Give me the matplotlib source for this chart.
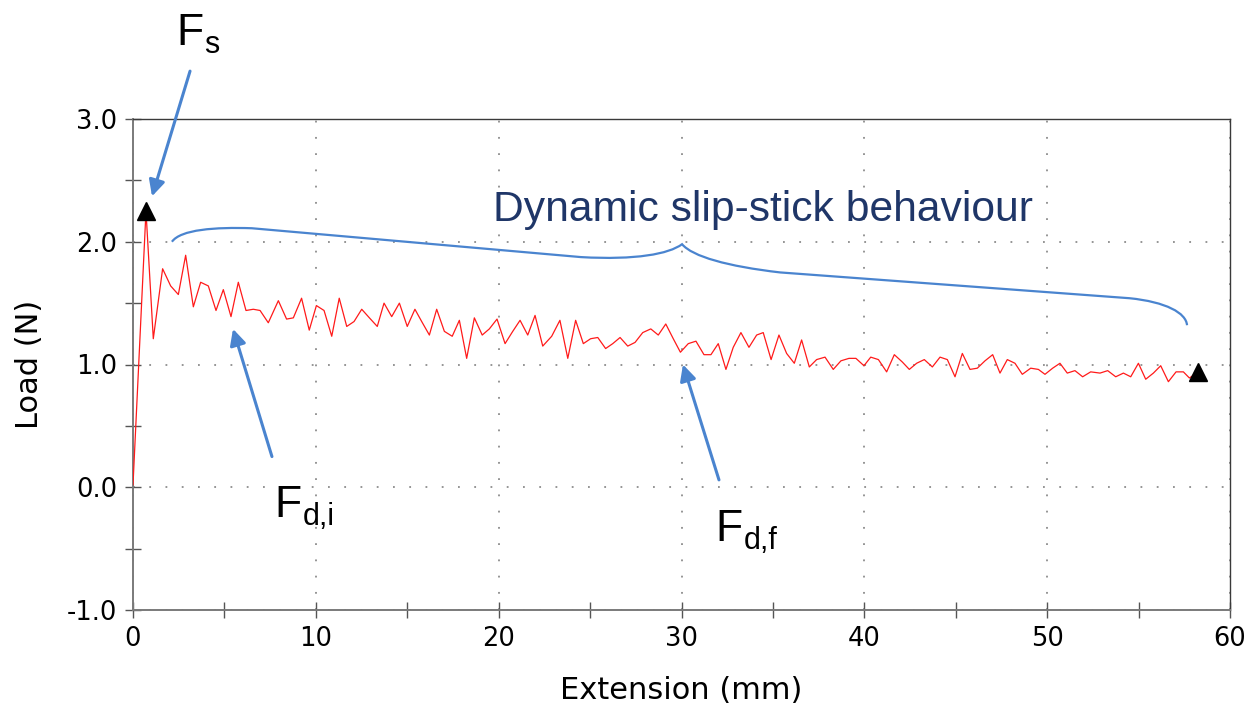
import matplotlib
matplotlib.use("Agg")
import matplotlib.pyplot as plt
from matplotlib.ticker import MultipleLocator, FormatStrFormatter
from matplotlib.path import Path
from matplotlib.patches import PathPatch

# Load-extension record of the slip-stick test
ext_mm = [0.00, 0.71, 1.11, 1.62, 2.06, 2.48, 2.88, 3.30, 3.70, 4.12, 4.54, 4.94,
          5.36, 5.76, 6.18, 6.58, 6.95, 7.40, 7.95, 8.40, 8.77, 9.22, 9.64, 10.03,
          10.45, 10.87, 11.28, 11.69, 12.09, 12.51, 12.93, 13.36, 13.73, 14.15, 14.57, 15.00,
          15.42, 15.79, 16.21, 16.61, 17.03, 17.46, 17.85, 18.25, 18.67, 19.10, 19.49, 19.91,
          20.35, 20.77, 21.17, 21.59, 21.99, 22.41, 22.90, 23.35, 23.78, 24.21, 24.63, 25.03,
          25.42, 25.85, 26.24, 26.64, 27.06, 27.46, 27.88, 28.32, 28.73, 29.14, 29.55, 29.94,
          30.37, 30.79, 31.23, 31.61, 32.01, 32.43, 32.83, 33.25, 33.69, 34.11, 34.47, 34.90,
          35.33, 35.75, 36.17, 36.57, 36.99, 37.39, 37.85, 38.30, 38.72, 39.16, 39.54, 39.98,
          40.35, 40.77, 41.22, 41.64, 42.08, 42.46, 42.86, 43.28, 43.72, 44.14, 44.54, 44.96,
          45.36, 45.78, 46.18, 46.60, 47.02, 47.42, 47.82, 48.24, 48.64, 49.10, 49.52, 49.88,
          50.30, 50.70, 51.10, 51.52, 51.94, 52.38, 52.89, 53.31, 53.75, 54.17, 54.57, 54.99,
          55.39, 55.81, 56.21, 56.63, 57.05, 57.45, 57.78, 58.27]
load_n = [0.02, 2.25, 1.21, 1.78, 1.64, 1.57, 1.89, 1.47, 1.67, 1.64, 1.44, 1.61,
          1.39, 1.67, 1.44, 1.45, 1.44, 1.34, 1.52, 1.37, 1.38, 1.54, 1.28, 1.48,
          1.44, 1.23, 1.54, 1.31, 1.35, 1.45, 1.38, 1.31, 1.50, 1.39, 1.50, 1.31,
          1.45, 1.35, 1.24, 1.45, 1.27, 1.23, 1.36, 1.05, 1.38, 1.24, 1.29, 1.37,
          1.17, 1.27, 1.36, 1.24, 1.40, 1.15, 1.23, 1.36, 1.05, 1.36, 1.17, 1.21,
          1.22, 1.13, 1.17, 1.22, 1.15, 1.18, 1.26, 1.29, 1.24, 1.33, 1.21, 1.10,
          1.17, 1.19, 1.08, 1.08, 1.17, 0.96, 1.14, 1.26, 1.14, 1.24, 1.26, 1.04,
          1.24, 1.09, 1.01, 1.20, 0.98, 1.04, 1.06, 0.96, 1.03, 1.05, 1.05, 0.99,
          1.06, 1.04, 0.94, 1.08, 1.02, 0.96, 1.01, 1.04, 0.98, 1.06, 1.04, 0.90,
          1.09, 0.96, 0.97, 1.03, 1.08, 0.93, 1.04, 1.01, 0.92, 0.97, 0.96, 0.92,
          0.97, 1.01, 0.93, 0.95, 0.90, 0.94, 0.93, 0.95, 0.90, 0.93, 0.90, 1.01,
          0.88, 0.93, 0.99, 0.86, 0.94, 0.94, 0.89, 0.94]

# Marked points: static peak and final point
peak_idx = 1
end_idx = len(ext_mm) - 1

x_ticks = [0, 10, 20, 30, 40, 50, 60]
y_ticks = [-1.0, 0.0, 1.0, 2.0, 3.0]

W, H = 1247, 707
fig = plt.figure(figsize=(W / 100, H / 100), dpi=100)
ax = fig.add_axes([133 / W, (H - 610) / H, (1230 - 133) / W, (610 - 119) / H])

ARROW_BLUE = "#4a84cf"
TEXT_NAVY = "#1f3668"
ann_font = ["Liberation Sans", "DejaVu Sans"]

ax.plot(ext_mm, load_n, color="#ff1a1a", lw=0.9, zorder=3)
ax.plot([ext_mm[peak_idx], ext_mm[end_idx]], [load_n[peak_idx], load_n[end_idx]],
        linestyle="none", marker="^", color="black", markersize=13, zorder=4)

ax.set_xlim(0, 60)
ax.set_ylim(-1, 3)
ax.set_xticks(x_ticks)
ax.set_yticks(y_ticks)
ax.xaxis.set_minor_locator(MultipleLocator(5))
ax.yaxis.set_minor_locator(MultipleLocator(0.5))
ax.yaxis.set_major_formatter(FormatStrFormatter("%.1f"))
ax.tick_params(which="both", direction="inout", length=11, width=1.0, color="#555555",
               labelsize=18.5, pad=6)
for lab in ax.get_xticklabels() + ax.get_yticklabels():
    lab.set_family("DejaVu Sans")

ax.grid(True, which="major", color="#8c8c8c", linestyle=(0, (1, 8)), lw=1.3)
for side in ("left", "bottom"):
    ax.spines[side].set_color("#7a7a7a")
    ax.spines[side].set_linewidth(1.4)
for side in ("top", "right"):
    ax.spines[side].set_color("#3a3a3a")
    ax.spines[side].set_linewidth(1.0)

ax.set_xlabel("Extension (mm)", fontsize=22, family="DejaVu Sans", labelpad=17)
ax.set_ylabel("Load (N)", fontsize=22, family="DejaVu Sans", labelpad=16)


def fig_text(px, py, s, **kw):
    fig.text(px / W, 1 - py / H, s, va="baseline", ha="left", family=ann_font, **kw)


# Force labels with subscripts
fig_text(176, 45, "F", fontsize=32)
fig_text(204, 53, "s", fontsize=22)
fig_text(274, 517, "F", fontsize=32)
fig_text(303, 525, "d,i", fontsize=22)
fig_text(715, 541, "F", fontsize=32)
fig_text(744, 549, "d,f", fontsize=22)

ax.text(34.45, 2.17, "Dynamic slip-stick behaviour", fontsize=30.7, color=TEXT_NAVY,
        family=ann_font, ha="center", va="baseline")

arrow_kw = dict(arrowstyle="-|>", color=ARROW_BLUE, lw=2.2, mutation_scale=24,
                shrinkA=0, shrinkB=0)
for head, tail in [((1.04, 2.37), (3.12, 3.39)),
                   ((5.47, 1.29), (7.60, 0.25)),
                   ((30.08, 1.00), (32.05, 0.06))]:
    ax.annotate("", xy=head, xytext=tail, arrowprops=arrow_kw, annotation_clip=False)

# Curly brace over the dynamic region
verts = [(2.13, 2.00), (2.6, 2.10), (4.5, 2.12), (6.5, 2.11),
         (24.5, 1.875),
         (27.5, 1.85), (29.3, 1.90), (30.03, 1.98),
         (30.6, 1.88), (32.5, 1.80), (35.4, 1.75),
         (54.5, 1.54),
         (56.5, 1.51), (57.6, 1.42), (57.65, 1.32)]
codes = [Path.MOVETO, Path.CURVE4, Path.CURVE4, Path.CURVE4,
         Path.LINETO,
         Path.CURVE4, Path.CURVE4, Path.CURVE4,
         Path.CURVE4, Path.CURVE4, Path.CURVE4,
         Path.LINETO,
         Path.CURVE4, Path.CURVE4, Path.CURVE4]
ax.add_patch(PathPatch(Path(verts, codes), facecolor="none", edgecolor=ARROW_BLUE,
                       lw=1.6, zorder=2))

fig.savefig("out.png", dpi=100)
